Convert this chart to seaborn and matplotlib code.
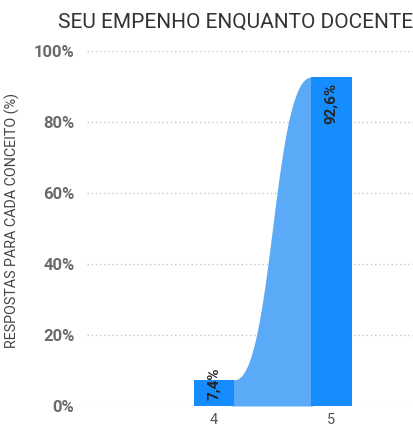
import numpy as np
import pandas as pd
import matplotlib
matplotlib.use("Agg")
import matplotlib.pyplot as plt
import seaborn as sns

# Share of answers per rating
categories = ["4", "5"]
shares = [7.4, 92.6]
value_labels = ["7,4%", "92,6%"]
ytick_values = [0, 20, 40, 60, 80, 100]
ytick_labels = ["0%", "20%", "40%", "60%", "80%", "100%"]

title = "SEU EMPENHO ENQUANTO DOCENTE"
ylabel = "RESPOSTAS PARA CADA CONCEITO (%)"

BAR_COLOR = "#168DFF"
RIBBON_COLOR = "#5AAAF7"
BAR_WIDTH = 0.35

sns.set_theme(style="white")
plt.rcParams["font.family"] = ["Roboto", "DejaVu Sans"]

fig = plt.figure(figsize=(4.14, 4.28), dpi=100)
ax = fig.add_axes([87 / 414, 22 / 428, 1 - 87 / 414, (406 - 51) / 428])

df = pd.DataFrame({"conceito": categories, "pct": shares})

# Ribbon between consecutive bars: cubic bezier with flat tangents,
# tucked slightly under the bars so no seam shows
overlap = 0.02
for i in range(len(shares) - 1):
    x0 = i + BAR_WIDTH / 2
    x1 = i + 1 - BAR_WIDTH / 2
    y0, y1 = shares[i], shares[i + 1]
    t = np.linspace(0, 1, 200)
    xm = (x0 + x1) / 2
    bx = (1 - t) ** 3 * x0 + 3 * (1 - t) ** 2 * t * xm + 3 * (1 - t) * t ** 2 * xm + t ** 3 * x1
    by = (1 - t) ** 3 * y0 + 3 * (1 - t) ** 2 * t * y0 + 3 * (1 - t) * t ** 2 * y1 + t ** 3 * y1
    bx = np.concatenate([[x0 - overlap], bx, [x1 + overlap]])
    by = np.concatenate([[y0], by, [y1]])
    ax.fill_between(bx, 0, by, color=RIBBON_COLOR, linewidth=0, zorder=2)

sns.barplot(data=df, x="conceito", y="pct", order=categories, color=BAR_COLOR,
            saturation=1, width=BAR_WIDTH, linewidth=0, edgecolor="none", ax=ax, zorder=3)

ax.set_xlim(-1.085, 1.709)
ax.set_ylim(0, 100)

# Dotted horizontal gridlines
for v in ytick_values:
    ax.axhline(v, color="#C8C8C8", linewidth=1, linestyle=(0, (1, 2)), zorder=1)

ax.set_yticks(ytick_values)
ax.set_yticklabels(ytick_labels, fontsize=12, fontweight="bold", color="#6A6A6A")
ax.tick_params(axis="y", length=0, pad=9)
ax.tick_params(axis="x", length=0, pad=5, labelsize=10.5, labelcolor="#555555")
ax.set_xlabel("")
ax.set_ylabel("")
for s in ax.spines.values():
    s.set_visible(False)

# Value labels, rotated, near the bar tops
for i, (v, lab) in enumerate(zip(shares, value_labels)):
    if v > 20:
        ax.text(i, v - 1.7, lab, rotation=90, ha="center", va="top", fontsize=11,
                fontweight="bold", color="#252423", zorder=4)
    else:
        ax.text(i, v - 1.0, lab, rotation=90, ha="center", va="center", fontsize=11,
                fontweight="bold", color="#252423", zorder=4)

fig.text(236 / 414, 1 - 22 / 428, title, ha="center", va="center", fontsize=15, color="#333333")
fig.text(12 / 414, 1 - 221 / 428, ylabel, ha="center", va="center", rotation=90, fontsize=10.3,
         color="#444444")

fig.savefig("out.png", dpi=100)
